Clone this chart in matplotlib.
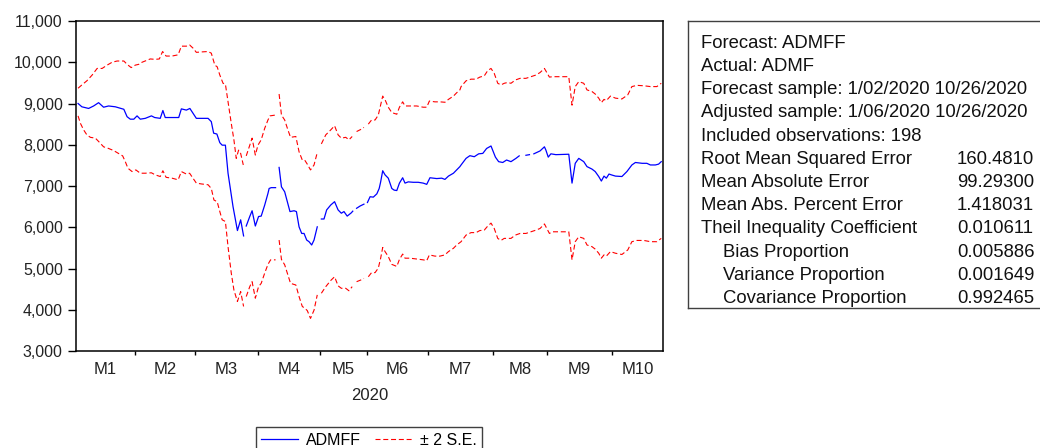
import matplotlib.pyplot as plt
import numpy as np
from matplotlib.lines import Line2D
from matplotlib.ticker import FuncFormatter

plt.rcParams["font.family"] = ["Liberation Sans", "DejaVu Sans"]

nan = np.nan

# forecast ADMFF (x = trading day index, gaps = missing obs)
fc_day = [0.7, 2.0, 4.3, 6.0, 7.7, 9.4, 11.1, 13.4, 16.3, 17.4, 18.5, 19.7, 20.8, 21.9, 23.6, 25.7,
          26.8, 28.7, 29.6, 30.4, 35.0, 35.9, 37.6, 38.8, 41.0, 45.0, 46.1, 46.9, 48.0, 49.0, 49.8,
          50.9, 51.8, 53.5, 55.0, 56.1, 57.1, 57.6, 58.0, 59.2, 60.0, 61.1, 62.2, 63.1, 64.3, 65.4,
          65.8, 66.5, 68.0, 68.6, 69.2, 70.0, 71.1, 72.0, 72.9, 74.3, 75.1, 76.0, 76.9, 77.7, 78.6,
          79.4, 80.3, 81.1, 82.2, 82.9, 83.6, 84.5, 85.4, 86.8, 88.1, 89.3, 90.4, 91.3, 92.4, 93.8,
          94.3, 95.0, 95.6, 96.8, 98.1, 98.7, 99.3, 100.2, 101.3, 102.5, 103.3, 103.8, 104.5, 105.3,
          106.4, 107.6, 108.4, 109.3, 110.2, 111.3, 112.1, 113.2, 114.9, 116.6, 118.3, 119.5, 120.6,
          122.9, 124.6, 125.7, 126.9, 128.6, 129.7, 130.8, 131.2, 132.9, 134.2, 135.7, 137.2, 138.6,
          139.9, 141.4, 142.9, 144.0, 145.4, 146.7, 148.2, 149.9, 151.0, 152.2, 153.3, 154.5, 155.2,
          156.0, 158.1, 159.6, 160.1, 160.9, 161.8, 163.5, 167.9, 169.0, 170.1, 171.3, 173.0, 174.1,
          175.8, 176.9, 178.1, 179.0, 179.9, 180.7, 181.6, 182.4, 183.8, 186.0, 187.7, 189.4, 190.6,
          192.9, 194.5, 195.7, 197.4, 198.5, 199.4]
fc_val = [9000, 8920, 8880, 8940, 9020, 8910, 8940, 8920, 8860, 8680, 8620, 8620, 8700, 8620, 8640, 8700,
          8660, 8640, 8830, 8660, 8660, 8870, 8840, 8880, 8640, 8640, 8560, 8280, 8260, 8050, 7990,
          7990, 7310, 6500, 5920, 6180, 5790, nan, 6030, 6260, 6400, 6030, 6260, 6270, 6540, 6820,
          6940, 6960, 6960, nan, 7450, 6980, 6860, 6620, 6380, 6400, 6380, 6010, 5850, 5850, 5690,
          5650, 5570, 5690, 6010, nan, 6200, 6200, 6420, 6540, 6620, 6420, 6340, 6380, 6270, 6350,
          6390, nan, 6460, 6515, 6560, nan, 6600, 6740, 6730, 6810, 6940, 7100, 7370, 7270,
          7190, 6940, 6900, 6890, 7070, 7200, 7070, 7100, 7090, 7090, 7070, 7040, 7200,
          7180, 7190, 7160, 7240, 7310, 7390, 7470, 7510, 7670, 7735, 7710, 7780, 7790,
          7910, 7970, 7700, 7590, 7570, 7630, 7590, 7670, 7730, nan, 7745, 7760, nan,
          7780, 7850, 7950, 7870, 7700, 7780, 7760, 7770, 7070, 7550, 7670, 7590, 7470,
          7410, 7350, 7230, 7120, 7240, 7190, 7290, 7270, 7240, 7230, 7350, 7510, 7570,
          7550, 7550, 7510, 7510, 7530, 7590]

# upper band (+2 S.E.)
up_day = [0.7, 2.0, 3.7, 5.5, 7.2, 8.9, 10.6, 12.3, 14.0, 16.3, 17.4, 18.8, 20.2, 21.4, 22.5, 23.9,
          25.3, 27.0, 28.4, 29.5, 30.7, 32.7, 34.8, 35.9, 37.6, 38.7, 39.9, 41.0, 42.7, 45.0, 46.1,
          47.3, 48.1, 49.0, 50.1, 50.9, 51.8, 52.9, 53.8, 54.6, 55.4, 56.1, 57.0, 57.5, 58.0, 59.2,
          60.0, 61.1, 62.0, 63.1, 64.3, 65.4, 66.1, 68.0, 68.6, 69.2, 70.0, 71.1, 72.2, 73.1, 74.9,
          76.0, 77.1, 77.9, 78.8, 79.9, 81.1, 82.2, 82.9, 83.6, 85.1, 86.8, 88.1, 89.3, 90.4, 91.9,
          93.0, 94.1, 95.0, 95.6, 97.0, 98.1, 98.8, 99.6, 100.7, 101.9, 103.0, 103.8, 104.5, 105.3,
          106.4, 107.6, 109.3, 110.2, 111.3, 112.1, 113.8, 116.1, 118.3, 119.5, 120.4, 122.3, 124.0,
          125.7, 126.9, 128.6, 129.7, 130.8, 131.2, 132.9, 134.6, 136.3, 137.6, 139.1, 140.3, 141.4,
          142.5, 143.7, 144.8, 145.9, 147.1, 148.2, 149.7, 151.3, 153.3, 155.0, 156.7, 158.1, 159.6,
          160.4, 161.3, 162.4, 163.5, 167.9, 169.0, 170.1, 171.3, 173.0, 174.1, 175.8, 176.9, 178.1,
          179.0, 179.9, 180.7, 182.1, 183.8, 186.0, 188.0, 189.4, 191.1, 193.5, 195.7, 197.9, 199.4]
up_val = [9370, 9450, 9550, 9690, 9850, 9850, 9930, 10000, 10030, 10030, 9950, 9870, 9930, 9950, 10000, 10040,
          10080, 10070, 10080, 10260, 10150, 10150, 10180, 10390, 10390, 10420, 10340, 10240, 10250, 10260, 10220,
          9930, 9890, 9690, 9490, 9470, 9040, 8520, 8120, 7670, 7870, 7790, 7510, nan, 7730, 7990,
          8160, 7750, 7990, 8120, 8400, 8600, 8700, 8720, nan, 9230, 8720, 8600, 8360, 8180, 8200,
          7830, 7630, 7630, 7530, 7390, 7510, 7810, nan, 8020, 8240, 8360, 8460, 8240, 8160, 8180,
          8120, 8200, nan, 8320, 8370, 8420, nan, 8500, 8600, 8600, 8720, 8960, 9180, 9090,
          8910, 8780, 8740, 8910, 9040, 8940, 8940, 8940, 8910, 8910, 9060, 9040, 9040,
          9030, 9100, 9180, 9260, 9330, 9410, 9550, 9590, 9590, 9640, 9670, 9800, 9850,
          9730, 9490, 9450, 9490, 9510, 9490, 9570, 9610, 9610, 9650, 9690, 9750, 9850,
          9750, 9640, 9650, 9650, 9650, 8960, 9410, 9530, 9490, 9330, 9290, 9230, 9130,
          9020, 9100, 9070, 9180, 9130, 9110, 9210, 9410, 9440, 9430, 9410, 9410, 9490]

# lower band (-2 S.E.)
lo_day = [0.7, 1.5, 2.6, 3.7, 4.9, 6.6, 7.7, 9.4, 11.1, 12.8, 14.5, 15.9, 16.8, 17.7, 19.1, 20.4,
          21.9, 23.6, 25.7, 27.0, 28.7, 29.6, 30.7, 32.7, 34.8, 35.9, 37.6, 38.7, 41.0, 42.7, 45.0,
          46.1, 47.0, 48.1, 49.0, 49.8, 50.9, 51.8, 52.9, 53.8, 55.0, 56.1, 57.1, 57.5, 58.0, 59.2,
          60.0, 61.1, 62.2, 63.1, 64.3, 65.4, 66.3, 68.0, 68.6, 69.2, 70.0, 71.1, 72.2, 73.1, 74.9,
          76.0, 77.1, 77.9, 78.8, 79.9, 81.1, 82.2, 82.9, 83.6, 85.1, 86.8, 88.1, 89.3, 90.4, 91.9,
          93.0, 94.1, 95.0, 95.6, 97.0, 98.1, 98.8, 99.6, 100.7, 101.9, 103.0, 103.8, 104.5, 105.3,
          106.4, 107.6, 109.3, 110.2, 111.3, 112.1, 113.8, 116.1, 118.3, 119.5, 120.4, 122.3, 124.0,
          125.7, 126.9, 128.6, 129.7, 130.8, 131.2, 132.9, 134.6, 136.3, 137.6, 139.1, 140.3, 141.4,
          142.5, 143.7, 144.8, 145.9, 148.2, 149.7, 151.3, 153.3, 155.0, 156.7, 158.1, 159.6, 160.4,
          161.3, 162.4, 163.5, 167.9, 169.0, 170.1, 171.3, 173.0, 174.1, 175.8, 176.9, 178.1, 179.0,
          179.9, 180.7, 182.1, 183.8, 186.0, 188.0, 189.4, 191.1, 193.5, 195.7, 197.9, 199.4]
lo_val = [8700, 8520, 8360, 8240, 8180, 8160, 8080, 7950, 7910, 7860, 7790, 7730, 7590, 7430, 7350, 7390,
          7310, 7310, 7320, 7270, 7230, 7370, 7210, 7190, 7150, 7350, 7290, 7310, 7070, 7050, 7030,
          6940, 6660, 6620, 6380, 6180, 6140, 5530, 4890, 4480, 4200, 4440, 4080, nan, 4320, 4560,
          4680, 4280, 4560, 4640, 4890, 5100, 5210, 5210, nan, 5690, 5220, 5090, 4840, 4640, 4600,
          4320, 4080, 4040, 3980, 3790, 3990, 4360, nan, 4400, 4560, 4710, 4800, 4580, 4520, 4520,
          4460, 4560, nan, 4680, 4720, 4760, nan, 4800, 4900, 4900, 5010, 5250, 5510, 5410,
          5290, 5100, 5050, 5220, 5350, 5250, 5250, 5230, 5210, 5190, 5330, 5300, 5300,
          5330, 5410, 5490, 5570, 5630, 5650, 5810, 5870, 5870, 5920, 5930, 6030, 6100,
          5970, 5730, 5680, 5730, 5730, 5810, 5850, 5850, 5890, 5930, 5970, 6080, 5970,
          5850, 5890, 5890, 5890, 5210, 5650, 5770, 5730, 5570, 5530, 5470, 5370, 5250,
          5330, 5300, 5410, 5370, 5340, 5450, 5650, 5680, 5680, 5650, 5650, 5730]

month_edges = [20, 40.5, 62, 83, 99, 120, 142, 160.5, 182.5]
month_labels = ["M1", "M2", "M3", "M4", "M5", "M6", "M7", "M8", "M9", "M10"]
n_days = 200

stat_labels = ["Forecast: ADMFF", "Actual: ADMF",
               "Forecast sample: 1/02/2020 10/26/2020",
               "Adjusted sample: 1/06/2020 10/26/2020",
               "Included observations: 198",
               "Root Mean Squared Error", "Mean Absolute Error",
               "Mean Abs. Percent Error", "Theil Inequality Coefficient",
               "Bias Proportion", "Variance Proportion", "Covariance Proportion"]
stat_values = ["", "", "", "", "", "160.4810", "99.29300", "1.418031",
               "0.010611", "0.005886", "0.001649", "0.992465"]
stat_indent = [False] * 9 + [True] * 3

W, H = 1040, 448
fig = plt.figure(figsize=(W / 100, H / 100), dpi=100)
ax = fig.add_axes([76 / W, 1 - 351 / H, (663 - 76) / W, (351 - 21) / H])

red_kw = dict(color="#ff0000", lw=0.8, dashes=(4.5, 2.5))
ax.plot(fc_day, fc_val, color="#0000ff", lw=0.9)
ax.plot(up_day, up_val, **red_kw)
ax.plot(lo_day, lo_val, **red_kw)

ax.set_xlim(0, n_days)
ax.set_ylim(3000, 11000)
ax.set_yticks(np.arange(3000, 11001, 1000))
ax.yaxis.set_major_formatter(FuncFormatter(lambda v, p: f"{v:,.0f}"))

edges = [0] + month_edges + [n_days]
mids = [(a + b) / 2 for a, b in zip(edges[:-1], edges[1:])]
ax.set_xticks(month_edges)
ax.set_xticklabels([])
ax.set_xticks(mids, minor=True)
ax.set_xticklabels(month_labels, minor=True)
ax.tick_params(axis="x", which="major", direction="out", length=3, width=1)
ax.tick_params(axis="x", which="minor", length=0, pad=8, labelsize=12, labelcolor="#222222")
ax.tick_params(axis="y", direction="out", length=5.5, width=1, pad=4,
               labelsize=11.5, labelcolor="#222222")
ax.set_xlabel("2020", fontsize=12, color="#222222", labelpad=8)
for s in ax.spines.values():
    s.set_color("black")
    s.set_linewidth(1.1)

handles = [Line2D([], [], color="#0000ff", lw=0.9), Line2D([], [], **red_kw)]
leg = fig.legend(handles, ["ADMFF", "\u00b1 2 S.E."], loc="upper center",
                 bbox_to_anchor=(369 / W, 1 - 427 / H), ncol=2, fontsize=11.5,
                 frameon=True, fancybox=False, edgecolor="#404040", framealpha=1,
                 handlelength=2.3, handletextpad=0.5, columnspacing=0.9,
                 borderaxespad=0, borderpad=0.35)
leg.get_frame().set_linewidth(1.0)

# statistics box
box = fig.add_axes([688 / W, 1 - 308 / H, 0.4, (308 - 21) / H])
box.set_xticks([])
box.set_yticks([])
for s in box.spines.values():
    s.set_color("#404040")
    s.set_linewidth(1.0)

for i, (lab, val, ind) in enumerate(zip(stat_labels, stat_values, stat_indent)):
    y = 1 - (43.3 + 23.2 * i) / H
    x = (722.7 if ind else 700.7) / W
    fig.text(x, y, lab, fontsize=13.3, va="center", ha="left", color="#111111")
    if val:
        fig.text(957 / W, y, val, fontsize=13.3, va="center", ha="left", color="#111111")

fig.savefig("out.png", dpi=100, facecolor="white")
